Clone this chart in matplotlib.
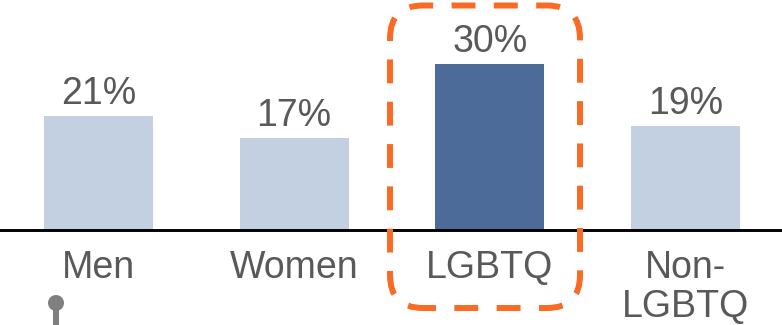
import matplotlib
matplotlib.use("Agg")
import matplotlib.pyplot as plt
from matplotlib.patches import FancyBboxPatch, Circle, Rectangle
from matplotlib.transforms import IdentityTransform

categories = ["Men", "Women", "LGBTQ", "Non-\nLGBTQ"]
values = [20.6, 16.6, 30.0, 18.8]
value_labels = ["21%", "17%", "30%", "19%"]

LIGHT = "#c3d0e2"
DARK = "#4d6b98"
TEXT = "#595959"
ORANGE = "#f96b24"
H = 325

plt.rcParams["font.family"] = ["Liberation Sans", "DejaVu Sans"]

fig = plt.figure(figsize=(7.82, 3.25), dpi=100)
ax = fig.add_axes([0, 0, 1, 1])
ax.set_xlim(-0.5036, 3.494)
ax.set_ylim(-17.3, 41.58)
ax.axis("off")

colors = [DARK if c == "LGBTQ" else LIGHT for c in categories]
x = range(len(categories))
ax.bar(x, values, width=0.557, color=colors, linewidth=0)
ax.axhline(0, color="black", lw=2.1, zorder=3)

for i, v in enumerate(values):
    ax.annotate(value_labels[i], (i, v), xytext=(0, 3), textcoords="offset points",
                ha="center", va="bottom", fontsize=27, color=TEXT)
    ax.annotate(categories[i], (i, 0), xytext=(0, -15), textcoords="offset points",
                ha="center", va="top", fontsize=27, color=TEXT, linespacing=1.1)

# dashed highlight round LGBTQ, in pixels
r = 33
box = FancyBboxPatch((390 + r, H - 308 + r), 190 - 2 * r, 302.5 - 2 * r,
                     boxstyle=f"round,pad={r},rounding_size={r}",
                     fill=False, edgecolor=ORANGE, lw=4.3,
                     linestyle=(11 / 6, (24 / 6, 18.5 / 6)),
                     transform=IdentityTransform(), zorder=4)
fig.add_artist(box)

# little pin under Men
fig.add_artist(Rectangle((53, 0), 6, 20, color="#7f7f7f", lw=0,
                         transform=IdentityTransform()))
fig.add_artist(Circle((56, H - 303), 8, color="#7f7f7f", lw=0,
                      transform=IdentityTransform()))

fig.savefig("out.png", dpi=100)
